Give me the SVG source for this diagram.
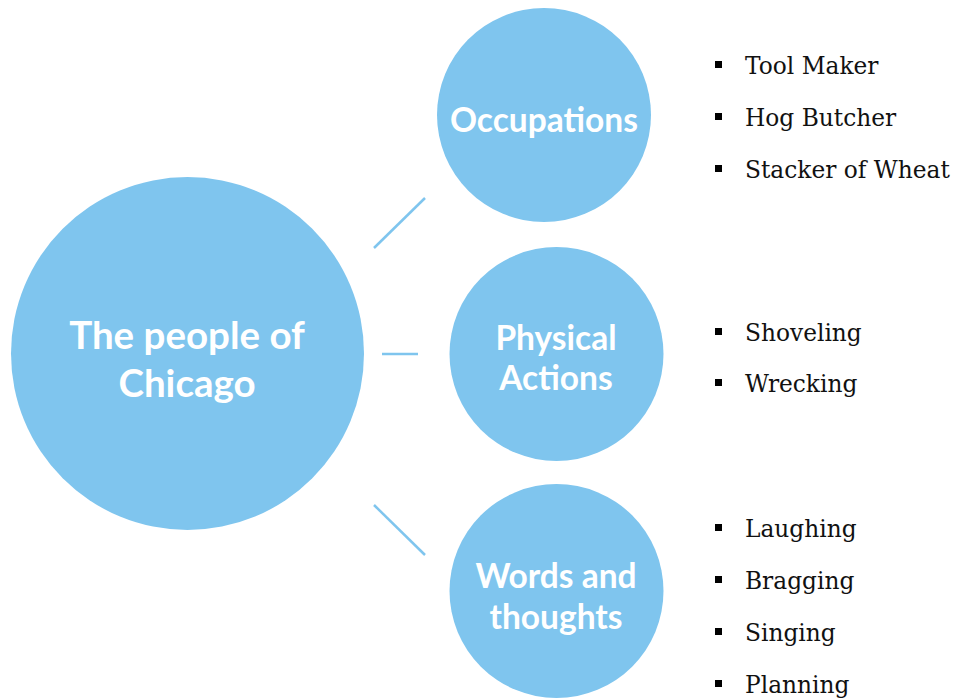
<svg xmlns="http://www.w3.org/2000/svg" width="955" height="698" viewBox="0 0 955 698">
<style>
.c{fill:#7FC5EE}
.t{fill:#fff;font-family:Lato,"Open Sans",sans-serif;font-weight:bold;text-anchor:middle}
.b{font-family:"DejaVu Serif","Liberation Serif",serif;font-size:23.3px;fill:#111}
.sq{fill:#000}
.ln{stroke:#7FC5EE;stroke-width:2.5;fill:none}
</style>
<rect width="955" height="698" fill="#fff"/>
<g id="connectors">
<line class="ln" x1="374" y1="248" x2="425" y2="198"/>
<line class="ln" x1="382" y1="354" x2="418" y2="354"/>
<line class="ln" x1="374" y1="505" x2="425" y2="555"/>
</g>
<g id="center">
<circle class="c" cx="187.5" cy="353.5" r="176.5"/>
<text class="t" x="187" y="349" font-size="38.5">The people of</text>
<text class="t" x="187" y="397" font-size="38.5">Chicago</text>
</g>
<g id="occupations">
<circle class="c" cx="544" cy="115" r="107"/>
<text class="t" x="544" y="132" font-size="33.5">Occupations</text>
</g>
<g id="physical">
<circle class="c" cx="556.5" cy="354" r="107"/>
<text class="t" x="556" y="350" font-size="33.5">Physical</text>
<text class="t" x="556" y="390" font-size="33.5">Actions</text>
</g>
<g id="words">
<circle class="c" cx="556.5" cy="591" r="107"/>
<text class="t" x="556" y="588" font-size="33.5">Words and</text>
<text class="t" x="556" y="629" font-size="33.5">thoughts</text>
</g>
<g id="list-occupations">
<rect class="sq" x="715" y="61" width="7" height="7"/><text class="b" x="745" y="74">Tool Maker</text>
<rect class="sq" x="715" y="113" width="7" height="7"/><text class="b" x="745" y="126">Hog Butcher</text>
<rect class="sq" x="715" y="165" width="7" height="7"/><text class="b" x="745" y="178">Stacker of Wheat</text>
</g>
<g id="list-physical">
<rect class="sq" x="715" y="328" width="7" height="7"/><text class="b" x="745" y="341">Shoveling</text>
<rect class="sq" x="715" y="379" width="7" height="7"/><text class="b" x="745" y="392">Wrecking</text>
</g>
<g id="list-words">
<rect class="sq" x="715" y="524" width="7" height="7"/><text class="b" x="745" y="537">Laughing</text>
<rect class="sq" x="715" y="576" width="7" height="7"/><text class="b" x="745" y="589">Bragging</text>
<rect class="sq" x="715" y="628" width="7" height="7"/><text class="b" x="745" y="641">Singing</text>
<rect class="sq" x="715" y="680" width="7" height="7"/><text class="b" x="745" y="693">Planning</text>
</g>
</svg>
